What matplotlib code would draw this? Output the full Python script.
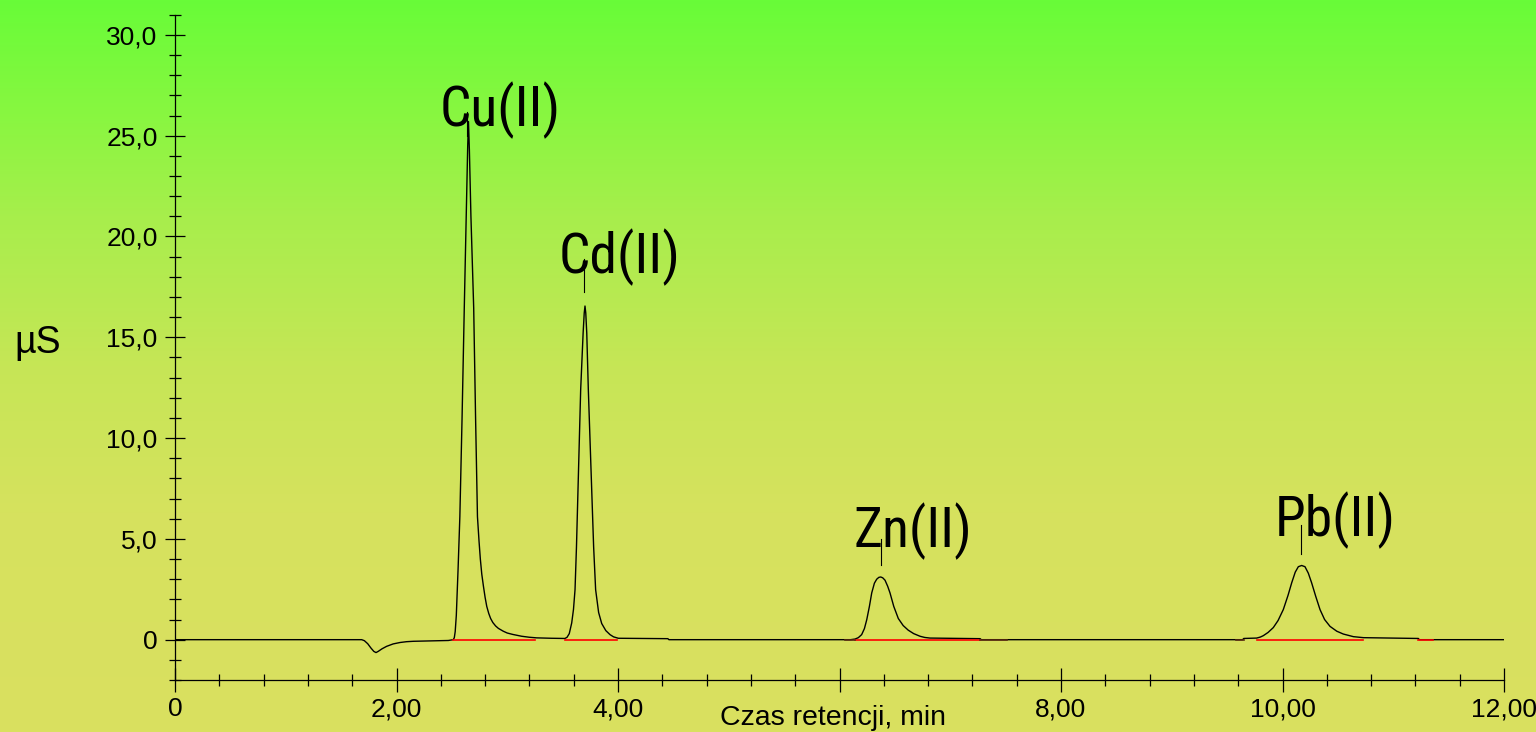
import numpy as np
import matplotlib
matplotlib.use('Agg')
import matplotlib.pyplot as plt
from matplotlib import font_manager
from matplotlib.ticker import MultipleLocator

# chromatogram trace (time in min, signal in uS)
time_min = [0.00, 1.686, 1.71, 1.74, 1.77, 1.795, 1.815, 1.835, 1.87, 1.911, 1.97, 2.032, 2.09, 2.152,
            2.30, 2.468, 2.513,
            2.522, 2.530, 2.540, 2.548, 2.556, 2.572, 2.592, 2.612, 2.632, 2.643, 2.650, 2.658, 2.672,
            2.697, 2.714, 2.731, 2.745, 2.757, 2.77, 2.785, 2.80, 2.815, 2.833, 2.85, 2.87, 2.895,
            2.92, 2.964, 3.00, 3.05, 3.13, 3.20, 3.266, 3.40, 3.521,
            3.54, 3.56, 3.582, 3.598, 3.612, 3.625, 3.639, 3.663, 3.685, 3.695, 3.702, 3.709, 3.718,
            3.732, 3.762, 3.78, 3.798, 3.825, 3.853, 3.89, 3.928, 3.96, 4.003, 4.45, 4.46,
            6.10, 6.14, 6.17, 6.20, 6.225, 6.246, 6.27, 6.291, 6.315, 6.336, 6.355, 6.372, 6.39,
            6.411, 6.435, 6.456, 6.49, 6.531, 6.575, 6.621, 6.67, 6.727, 6.77, 6.817, 7.27, 7.28,
            9.64, 9.65, 9.767, 9.80, 9.827, 9.87, 9.917, 9.96, 10.007, 10.05, 10.083, 10.115, 10.143,
            10.173, 10.203, 10.233, 10.263, 10.30, 10.339, 10.38, 10.429, 10.49, 10.549, 10.64,
            10.730, 11.227, 11.235, 12.0]
signal_us = [0.00, 0.00, -0.05, -0.20, -0.42, -0.58, -0.64, -0.58, -0.45, -0.33, -0.21, -0.14, -0.10, -0.08,
             -0.06, -0.04, 0.00,
             0.10, 0.40, 1.20, 2.30, 3.50, 6.10, 11.0, 16.46, 21.5, 24.5, 25.7, 24.3, 21.0,
             16.46, 11.0, 6.10, 4.90, 4.00, 3.25, 2.65, 2.10, 1.65, 1.30, 1.05, 0.85, 0.68,
             0.56, 0.42, 0.33, 0.26, 0.17, 0.12, 0.09, 0.07, 0.06,
             0.12, 0.30, 0.83, 1.50, 2.48, 4.60, 7.45, 12.41, 15.2, 16.2, 16.55, 16.2, 15.2,
             12.41, 7.45, 4.60, 2.48, 1.35, 0.80, 0.45, 0.25, 0.14, 0.07, 0.05, 0.00,
             0.00, 0.03, 0.10, 0.25, 0.55, 0.99, 1.65, 2.32, 2.80, 3.00, 3.09, 3.11, 3.07,
             2.95, 2.65, 2.32, 1.65, 1.05, 0.70, 0.47, 0.30, 0.17, 0.11, 0.08, 0.05, 0.00,
             0.00, 0.06, 0.08, 0.13, 0.20, 0.36, 0.60, 0.95, 1.49, 2.20, 2.82, 3.35, 3.62,
             3.68, 3.62, 3.30, 2.82, 2.15, 1.49, 1.00, 0.66, 0.42, 0.28, 0.15,
             0.10, 0.06, 0.00, 0.00]

# red integration baselines (start, end)
baseline_start = [2.51, 3.52, 6.14, 9.767, 11.227]
baseline_end = [3.25, 3.99, 7.27, 10.73, 11.362]
# dark marks at baseline ends
mark_start = [6.05, 7.27, 9.58]
mark_end = [6.14, 7.51, 9.65]

# peak labels
peak_names = ['Cu(II)', 'Cd(II)', 'Zn(II)', 'Pb(II)']
label_x = [2.935, 4.011, 6.66, 10.48]
label_y = [25.49, 18.19, 4.57, 5.11]
marker_x = [2.634, 3.696, 6.372, 10.167]
marker_top = [26.15, 18.87, 4.97, 5.71]
marker_bottom = [25.0, 17.23, 3.72, 4.27]

x_ticks = [0, 2, 4, 6, 8, 10, 12]
x_tick_labels = ['0', '2,00', '4,00', '', '8,00', '10,00', '12,00']
y_ticks = [0, 5, 10, 15, 20, 25, 30]
y_tick_labels = ['0', '5,0', '10,0', '15,0', '20,0', '25,0', '30,0']

plt.rcParams['font.family'] = ['Liberation Sans', 'DejaVu Sans']

# peak labels in the picture use a narrow face; take one if it is installed
installed = {f.name for f in font_manager.fontManager.ttflist}
label_font = 'Liberation Sans'
label_size = 35
for cand in ['Liberation Sans Narrow', 'Arial Narrow', 'Roboto Condensed']:
    if cand in installed:
        label_font = cand
        label_size = 40
        break

fig = plt.figure(figsize=(15.36, 7.32), dpi=100)

# background gradient, green on top to yellow at the bottom
stops_y = np.array([0.0, 0.15, 0.3, 0.5, 0.7, 1.0])
stops_rgb = np.array([[104, 252, 56], [135, 247, 64], [168, 238, 76],
                      [198, 230, 86], [214, 226, 94], [218, 224, 96]]) / 255.0
yy = np.linspace(0, 1, 400)
grad = np.stack([np.interp(yy, stops_y, stops_rgb[:, k]) for k in range(3)], axis=1)
grad = grad[:, None, :]
bg = fig.add_axes([0, 0, 1, 1])
bg.imshow(grad, aspect='auto', extent=[0, 1, 1, 0])
bg.axis('off')

ax = fig.add_axes([175 / 1536, 52 / 732, (1504 - 175) / 1536, (680 - 14.7) / 732])
ax.set_facecolor('none')

ax.plot(time_min, signal_us, color='black', lw=1.0, zorder=2)
for s, e in zip(baseline_start, baseline_end):
    ax.plot([s, e], [0, 0], color='#ff0000', lw=1.2, zorder=3)
for s, e in zip(mark_start, mark_end):
    ax.plot([s, e], [0, 0], color='#5a2a10', lw=1.2, zorder=3)

for name, lx, ly, mx, mt, mb in zip(peak_names, label_x, label_y, marker_x, marker_top, marker_bottom):
    ax.plot([mx, mx], [mb, mt], color='black', lw=0.8, zorder=2)
    ax.text(lx, ly, name, ha='center', va='baseline', fontsize=label_size,
            family=[label_font, 'Liberation Sans'], zorder=4)

ax.set_xlim(0, 12)
ax.set_ylim(-2, 31)
for side in ['top', 'right']:
    ax.spines[side].set_visible(False)
for side in ['left', 'bottom']:
    ax.spines[side].set_linewidth(0.9)

ax.set_xticks(x_ticks)
ax.set_xticklabels(x_tick_labels)
ax.set_yticks(y_ticks)
ax.set_yticklabels(y_tick_labels)
ax.xaxis.set_minor_locator(MultipleLocator(0.4))
ax.yaxis.set_minor_locator(MultipleLocator(1))
ax.tick_params(axis='x', which='major', direction='inout', length=17, width=0.9, labelsize=19, pad=4)
ax.tick_params(axis='x', which='minor', direction='inout', length=9, width=0.9)
ax.tick_params(axis='y', which='major', direction='inout', length=14, width=0.9, labelsize=19, pad=5.5)
ax.tick_params(axis='y', which='minor', direction='inout', length=8.5, width=0.9)

fig.text(833 / 1536, 1 - 725 / 732, 'Czas retencji, min', ha='center', va='baseline', fontsize=20.5)
fig.text(37.5 / 1536, 1 - 343 / 732, 'µS', ha='center', va='center', fontsize=27)

fig.savefig('out.png', dpi=100)
plt.close(fig)
